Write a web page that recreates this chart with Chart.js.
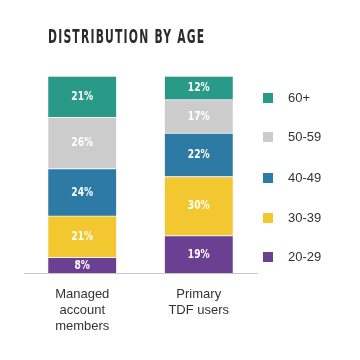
<!DOCTYPE html>
<html>
<head>
<meta charset="utf-8">
<script src="https://cdn.jsdelivr.net/npm/chart.js@4"></script>
<style>
  body { margin: 0; background: #fff; }
  #wrap { position: relative; width: 360px; height: 360px; }
  #title {
    position: absolute; left: 48px; top: 24px; white-space: nowrap;
    font: bold 20px "DejaVu Sans Condensed", sans-serif;
    letter-spacing: 2px; color: #2b2b2b;
    transform: scaleX(0.6); transform-origin: left top;
  }
  #legend { position: absolute; left: 263px; top: 0; }
  .item { position: absolute; left: 0; white-space: nowrap;
    font: 13px "Liberation Sans", Arial, sans-serif; color: #333; }
  .item span { display: inline-block; width: 10px; height: 10px; vertical-align: -1px; margin-right: 15px; }
</style>
</head>
<body>
<div id="wrap">
  <canvas id="chart" width="360" height="360"></canvas>
  <div id="title">DISTRIBUTION BY AGE</div>
  <div id="legend"></div>
</div>
<script>
const categories = [["Managed", "account", "members"], ["Primary", "TDF users"]];
const ageGroups = ["20-29", "30-39", "40-49", "50-59", "60+"];
const colors = ["#6b3f92", "#f2c72f", "#2d7ba5", "#cccccc", "#2a9a88"];
const managed = [8, 21, 24, 26, 21];
const primary = [19, 30, 22, 17, 12];

const datasets = ageGroups.map((g, i) => ({
    label: g,
    data: [managed[i], primary[i]],
    backgroundColor: colors[i],
    borderColor: "#f4f4f4",
    borderWidth: { top: 1 },
    borderSkipped: false,
    barThickness: 68
}));

// percentage text in the middle of each segment
const segmentLabels = {
    id: "segmentLabels",
    afterDatasetsDraw(chart) {
        const ctx = chart.ctx;
        chart.data.datasets.forEach((ds, i) => {
            chart.getDatasetMeta(i).data.forEach((bar, j) => {
                const y = (bar.y + bar.base) / 2;
                ctx.save();
                ctx.translate(bar.x, y);
                ctx.scale(0.78, 1);
                ctx.fillStyle = "#fff";
                ctx.font = "bold 13px 'DejaVu Sans Condensed', sans-serif";
                ctx.textAlign = "center";
                ctx.textBaseline = "middle";
                ctx.fillText(ds.data[j] + "%", 0, 0);
                ctx.restore();
            });
        });
    }
};

new Chart(document.getElementById("chart"), {
    type: "bar",
    data: { labels: categories, datasets: datasets },
    options: {
        responsive: false,
        animation: false,
        layout: { padding: { left: 24, right: 103, top: 76, bottom: 13 } },
        plugins: { legend: { display: false }, tooltip: { enabled: false } },
        scales: {
            x: {
                stacked: true,
                grid: { display: false, drawTicks: false },
                border: { display: true, color: "#c8c8c8", dash: [2, 2], width: 1 },
                ticks: {
                    padding: 13,
                    color: "#333",
                    font: { family: "'Liberation Sans', Arial, sans-serif", size: 13, lineHeight: 1.23 }
                }
            },
            y: { stacked: true, display: false, min: 0, max: 100 }
        }
    },
    plugins: [segmentLabels]
});

// legend, top item first
const legend = document.getElementById("legend");
const legendY = [98, 137, 178, 218, 257];
ageGroups.slice().reverse().forEach((g, k) => {
    const i = ageGroups.length - 1 - k;
    const div = document.createElement("div");
    div.className = "item";
    div.style.top = (legendY[k] - 8) + "px";
    div.innerHTML = '<span style="background:' + colors[i] + '"></span>' + g;
    legend.appendChild(div);
});
</script>
</body>
</html>
